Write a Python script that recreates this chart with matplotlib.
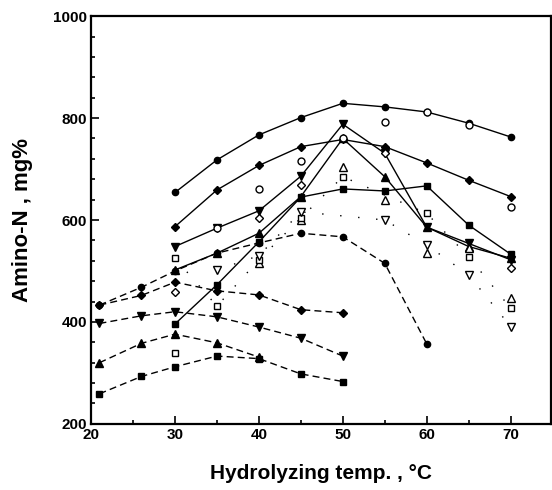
import matplotlib
matplotlib.use('Agg')
import matplotlib.pyplot as plt
from matplotlib.ticker import MultipleLocator

plt.rcParams['font.family'] = ['Liberation Sans', 'DejaVu Sans']

# ── data ──
t_hi = [30, 35, 40, 45, 50, 55, 60, 65, 70]
circ_solid = [654, 718, 767, 801, 829, 822, 812, 790, 763]
diam_solid = [587, 659, 707, 744, 758, 744, 712, 678, 646]
dtri_solid = [548, 584, 618, 686, 788, 731, 586, 554, 522]
utri_solid = [502, 535, 574, 646, 760, 685, 586, 548, 525]
sq_solid = [396, 473, 557, 645, 661, 657, 667, 590, 533]

t_circ_dash = [21, 26, 30, 35, 40, 45, 50, 55, 60]
circ_dash = [433, 468, 500, 535, 555, 574, 567, 515, 357]
t_lo = [21, 26, 30, 35, 40, 45, 50]
diam_dash = [433, 452, 478, 461, 453, 424, 418]
dtri_dash = [397, 412, 420, 410, 390, 368, 333]
sq_dash = [259, 293, 312, 333, 328, 298, 283]
t_utri_dash = [21, 26, 30, 35, 40]
utri_dash = [320, 358, 376, 359, 331]

# open symbols (no connecting line / sparse dots)
t_oc = [35, 40, 45, 50, 55, 60, 65, 70]
oc = [584, 660, 716, 760, 793, 812, 787, 626]
t_od = [30, 40, 45, 55, 70]
od = [459, 603, 669, 731, 505]
t_out = [40, 45, 50, 55, 60, 65, 70]
out = [515, 600, 705, 639, 535, 545, 446]
t_osq = [30, 35, 40, 45, 50, 60, 65, 70]
osq = [525, 431, 522, 604, 685, 613, 528, 427]
t_osq2 = [30]
osq2 = [340]
t_odt = [35, 40, 45, 55, 60, 65, 70]
odt = [502, 530, 616, 600, 551, 492, 391]

fig = plt.figure(figsize=(5.52, 4.9), dpi=100)
ax = fig.add_axes([0.165, 0.135, 0.833, 0.832])

lw = 1.0
ms = 4.5
ax.plot(t_hi, circ_solid, '-', color='k', lw=lw, marker='o', ms=ms)
ax.plot(t_hi, diam_solid, '-', color='k', lw=lw, marker='D', ms=ms - 0.8)
ax.plot(t_hi, dtri_solid, '-', color='k', lw=lw, marker='v', ms=ms + 1)
ax.plot(t_hi, utri_solid, '-', color='k', lw=lw, marker='^', ms=ms + 1)
ax.plot(t_hi, sq_solid, '-', color='k', lw=lw, marker='s', ms=ms)

dash = (0, (5, 3))
ax.plot(t_circ_dash, circ_dash, color='k', lw=lw, ls=dash, marker='o', ms=ms)
ax.plot(t_lo, diam_dash, color='k', lw=lw, ls=dash, marker='D', ms=ms - 0.8)
ax.plot(t_lo, dtri_dash, color='k', lw=lw, ls=dash, marker='v', ms=ms + 1)
ax.plot(t_utri_dash, utri_dash, color='k', lw=lw, ls=dash, marker='^', ms=ms + 1)
ax.plot(t_lo, sq_dash, color='k', lw=lw, ls=dash, marker='s', ms=ms)

dots = (0, (1, 12))
ax.plot(t_oc, oc, ls='none', marker='o', mfc='white', mec='k', mew=1.0, ms=ms + 0.5)
ax.plot(t_od, od, ls='none', marker='D', mfc='white', mec='k', mew=1.0, ms=ms)
ax.plot(t_out, out, ls='none', marker='^', mfc='white', mec='k', mew=1.0, ms=ms + 1)
ax.plot(t_osq, osq, color='k', lw=1.0, ls=dots, marker='s', mfc='white', mec='k', mew=1.0, ms=ms)
ax.plot(t_osq2, osq2, ls='none', marker='s', mfc='white', mec='k', mew=1.0, ms=ms)
ax.plot(t_odt, odt, color='k', lw=1.0, ls=dots, marker='v', mfc='white', mec='k', mew=1.0, ms=ms + 1)

ax.set_xlim(20, 74.8)
ax.set_ylim(200, 1000)
ax.xaxis.set_major_locator(MultipleLocator(10))
ax.xaxis.set_minor_locator(MultipleLocator(5))
ax.yaxis.set_major_locator(MultipleLocator(200))
ax.yaxis.set_minor_locator(MultipleLocator(40))
ax.tick_params(which='both', direction='in', width=1.2, top=False, right=False)
ax.tick_params(which='major', length=6, labelsize=11, pad=3)
ax.tick_params(which='minor', length=3)
for lab in ax.get_xticklabels() + ax.get_yticklabels():
    lab.set_fontweight('bold')
for s in ax.spines.values():
    s.set_linewidth(1.6)

ax.set_xlabel('Hydrolyzing temp. , \u00b0C', fontsize=15, fontweight='bold', labelpad=16)
ax.set_ylabel('Amino-N , mg%', fontsize=16, fontweight='bold', labelpad=14)

fig.savefig('out.png', dpi=100)
